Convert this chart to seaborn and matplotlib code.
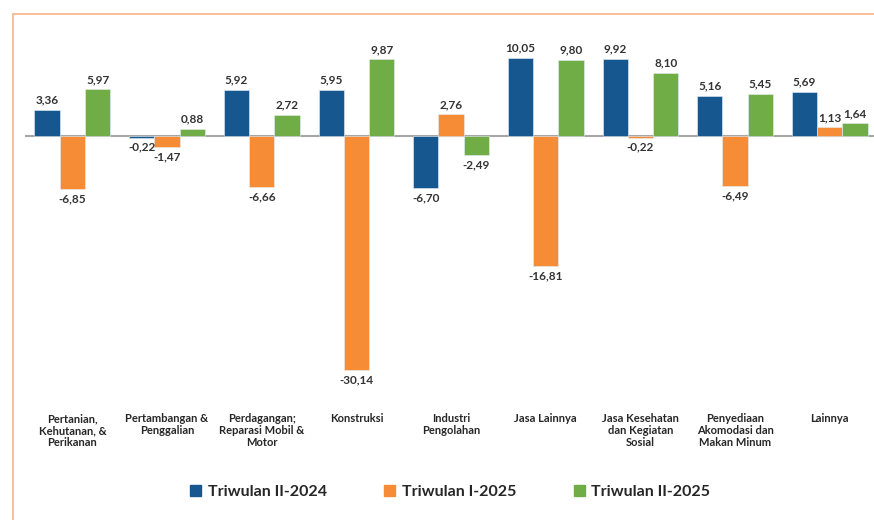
import numpy as np
import pandas as pd
import seaborn as sns
from matplotlib import pyplot as plt
from matplotlib.lines import Line2D
from matplotlib.patches import Patch

categories = ["Pertanian,\nKehutanan, &\nPerikanan", "Pertambangan &\nPenggalian",
              "Perdagangan;\nReparasi Mobil &\nMotor", "Konstruksi", "Industri\nPengolahan",
              "Jasa Lainnya", "Jasa Kesehatan\ndan Kegiatan\nSosial",
              "Penyediaan\nAkomodasi dan\nMakan Minum", "Lainnya"]
series = ["Triwulan II-2024", "Triwulan I-2025", "Triwulan II-2025"]
tw2_2024 = [3.36, -0.22, 5.92, 5.95, -6.70, 10.05, 9.92, 5.16, 5.69]
tw1_2025 = [-6.85, -1.47, -6.66, -30.14, 2.76, -16.81, -0.22, -6.49, 1.13]
tw2_2025 = [5.97, 0.88, 2.72, 9.87, -2.49, 9.80, 8.10, 5.45, 1.64]
colors = ["#17578F", "#F68D36", "#70AD47"]

df = pd.DataFrame({
    "kategori": categories * 3,
    "periode": [s for s in series for _ in categories],
    "nilai": tw2_2024 + tw1_2025 + tw2_2025,
})

sns.set_style("white")
plt.rcParams["font.family"] = ["Lato", "DejaVu Sans"]

fig = plt.figure(figsize=(8.74, 5.2), dpi=100)
ax = fig.add_axes([0.0286, 0.2404, 0.975, 0.7327])

ax.axhline(0, color="#A6A6A6", lw=1.5, zorder=0.5)
sns.barplot(data=df, x="kategori", y="nilai", hue="periode", hue_order=series,
            palette=colors, saturation=1, width=0.8, edgecolor="#E6EEF5", linewidth=0.4,
            legend=False, ax=ax, zorder=2)

for cont in ax.containers:
    vals = [b.get_height() for b in cont]
    labs = [f"{v:.2f}".replace(".", ",") for v in vals]
    ax.bar_label(cont, labels=labs, padding=3, fontsize=8.5, fontweight="bold", color="#333333")

ax.set_ylim(-33.4, 15.7)
ax.set_xlim(-0.5, 8.5)
ax.set_xlabel("")
ax.set_ylabel("")
ax.set_yticks([])
ax.tick_params(axis="x", length=0, pad=13)
for t in ax.get_xticklabels():
    t.set_fontsize(8)
    t.set_fontweight("bold")
    t.set_color("#262626")
    t.set_verticalalignment("top")
    t.set_linespacing(1.1)
sns.despine(ax=ax, left=True, bottom=True)

handles = [Patch(color=c, label=s) for c, s in zip(colors, series)]
fig.legend(handles=handles, loc="center", bbox_to_anchor=(0.515, 0.054), ncol=3,
           frameon=False, prop={"size": 11.5, "weight": "bold"}, handlelength=0.7,
           handleheight=0.7, handletextpad=0.4, columnspacing=3.6)

# orange frame lines
fig.add_artist(Line2D([13 / 874, 1], [1 - 14 / 520, 1 - 14 / 520], color="#F9B488", lw=1.2))
fig.add_artist(Line2D([13 / 874, 13 / 874], [0, 1 - 14 / 520], color="#F9B488", lw=1.2))

fig.savefig("out.png", dpi=100)
